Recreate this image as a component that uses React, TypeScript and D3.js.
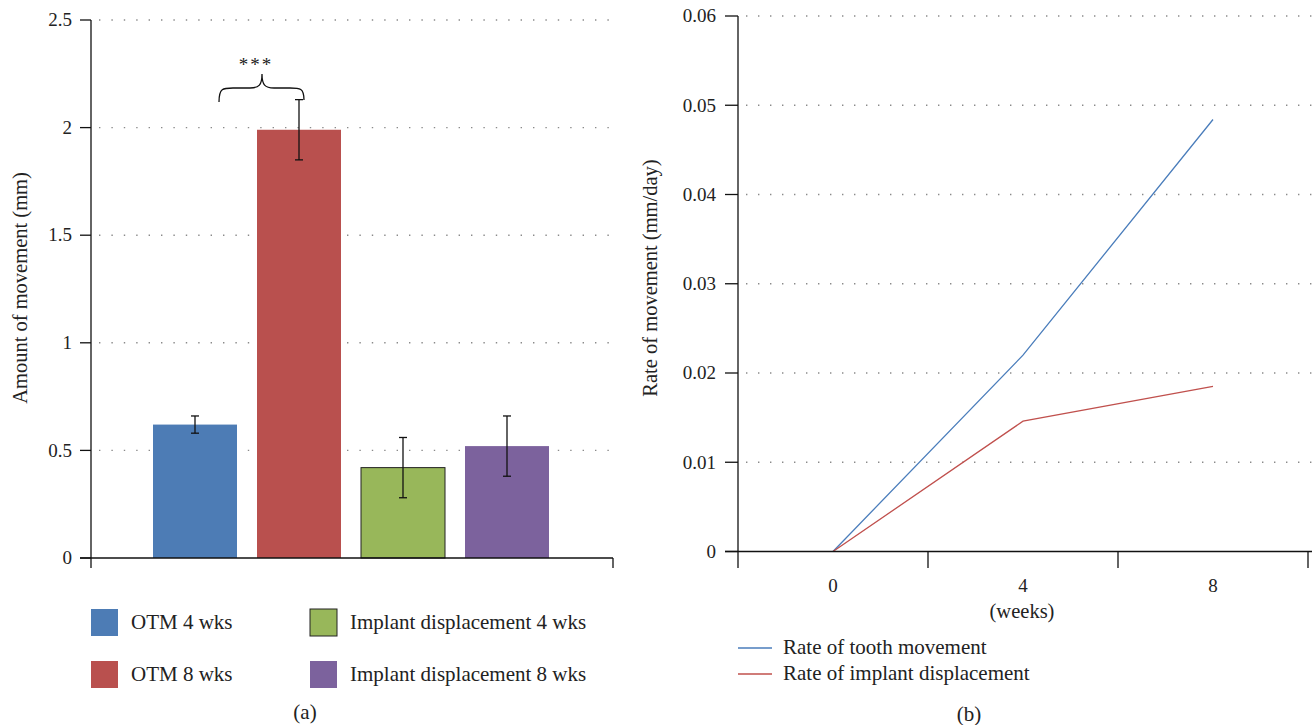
import React from "react";
import * as d3 from "d3";

const barCategories = ["OTM 4 wks", "OTM 8 wks", "Implant displacement 4 wks", "Implant displacement 8 wks"];
const barValues = [0.62, 1.99, 0.42, 0.52];
const barErrors = [0.04, 0.14, 0.14, 0.14];
const barColors = ["#4d7cb5", "#b9504e", "#98b75a", "#7c629d"];
const leftTicks = [0, 0.5, 1, 1.5, 2, 2.5];

const weeks = ["0", "4", "8"];
const toothRate = [0, 0.022, 0.0484];
const implantRate = [0, 0.0146, 0.0185];
const rightTicks = [0, 0.01, 0.02, 0.03, 0.04, 0.05, 0.06];
const lineSeries = [
  { name: "Rate of tooth movement", values: toothRate, color: "#4a7dbb" },
  { name: "Rate of implant displacement", values: implantRate, color: "#c0504d" },
];

const FONT = "'Liberation Serif', 'DejaVu Serif', serif";
const FS = 19;
const FL = 21;
const FT = 20.5;

export default function App() {
  // Left chart
  const lx0 = 91, lx1 = 613, ly0 = 558, ly1 = 20;
  const yL = d3.scaleLinear().domain([0, 2.5]).range([ly0, ly1]);
  const xL = d3.scalePoint<string>().domain(barCategories).range([lx0, lx1 - 2]).padding(1);
  const barW = 84;

  // Right chart
  const rx0 = 738, rx1 = 1308, ry0 = 551.5, ry1 = 16;
  const yR = d3.scaleLinear().domain([0, 0.06]).range([ry0, ry1]);
  const xR = d3.scaleBand<string>().domain(weeks).range([rx0, rx1]);
  const lineGen = d3
    .line<number>()
    .x((_, i) => (xR(weeks[i]) as number) + xR.bandwidth() / 2)
    .y((d) => yR(d));

  const braceL = 219, braceR = 304;
  const braceMid = (braceL + braceR) / 2 + 0.5;
  const braceBot = 102, braceBar = 88, bracePeak = 74;
  const bracePath = `M${braceL},${braceBot} C${braceL},${braceBar} ${braceL + 4},${braceBar} ${braceL + 14},${braceBar} L${braceMid - 12},${braceBar} C${braceMid - 3},${braceBar} ${braceMid},${braceBar - 3} ${braceMid},${bracePeak} C${braceMid},${braceBar - 3} ${braceMid + 3},${braceBar} ${braceMid + 12},${braceBar} L${braceR - 14},${braceBar} C${braceR - 4},${braceBar} ${braceR},${braceBar} ${braceR},${braceBot - 2}`;

  return (
    <svg width={1315} height={725} style={{ position: "absolute", left: 0, top: 0, background: "#fff" }} fontFamily={FONT}>
      {/* LEFT CHART */}
      {leftTicks.slice(1).map((t) => (
        <line key={"lg" + t} x1={lx0 + 8} x2={lx1 + 2} y1={yL(t)} y2={yL(t)} stroke="#8a8a8a" strokeWidth={1.4} strokeDasharray="1.4 11" />
      ))}
      {barCategories.map((c, i) => {
        const cx = xL(c) as number;
        return (
          <rect
            key={c}
            x={cx - barW / 2}
            y={yL(barValues[i])}
            width={barW}
            height={ly0 - yL(barValues[i])}
            fill={barColors[i]}
            stroke={i === 2 ? "#222" : "none"}
            strokeWidth={i === 2 ? 1 : 0}
          />
        );
      })}
      {barCategories.map((c, i) => {
        const cx = xL(c) as number;
        const top = yL(barValues[i] + barErrors[i]);
        const bot = yL(barValues[i] - barErrors[i]);
        return (
          <g key={"e" + c} stroke="#111" strokeWidth={1.3}>
            <line x1={cx} x2={cx} y1={top} y2={bot} />
            <line x1={cx - 4} x2={cx + 4} y1={top} y2={top} />
            <line x1={cx - 4} x2={cx + 4} y1={bot} y2={bot} />
          </g>
        );
      })}
      {/* axes */}
      <line x1={lx0} x2={lx0} y1={ly1} y2={568} stroke="#111" strokeWidth={1.3} />
      <line x1={80} x2={lx1} y1={ly0} y2={ly0} stroke="#111" strokeWidth={1.3} />
      <line x1={lx1} x2={lx1} y1={ly0} y2={568} stroke="#111" strokeWidth={1.3} />
      {leftTicks.map((t) => (
        <g key={"lt" + t}>
          <line x1={80} x2={lx0} y1={yL(t)} y2={yL(t)} stroke="#111" strokeWidth={1.3} />
          <text x={72} y={yL(t)} dy="0.33em" textAnchor="end" fontSize={FS} fill="#222">
            {String(t)}
          </text>
        </g>
      ))}
      <text transform={`translate(27,288) rotate(-90)`} textAnchor="middle" fontSize={FT} fill="#222">
        Amount of movement (mm)
      </text>
      {/* brace */}
      <path d={bracePath} fill="none" stroke="#111" strokeWidth={1.3} />
      <text x={braceMid - 6} y={71} textAnchor="middle" fontSize={FS} fill="#222" letterSpacing={2}>
        ***
      </text>
      {/* legend left */}
      {barCategories.map((c, i) => {
        const col = i < 2 ? 0 : 1;
        const row = i % 2;
        const sx = col === 0 ? 91 : 310;
        const sy = row === 0 ? 609 : 661;
        return (
          <g key={"lg" + c}>
            <rect x={sx} y={sy} width={27} height={27} fill={barColors[i]} stroke={i === 2 ? "#222" : "none"} strokeWidth={1} />
            <text x={sx + 40} y={sy + 20} fontSize={FL} fill="#222">
              {c}
            </text>
          </g>
        );
      })}
      <text x={305} y={719} textAnchor="middle" fontSize={FL} fill="#222">
        (a)
      </text>

      {/* RIGHT CHART */}
      {rightTicks.slice(1).map((t) => (
        <line key={"rg" + t} x1={rx0 + 8} x2={1313} y1={yR(t)} y2={yR(t)} stroke="#8a8a8a" strokeWidth={1.4} strokeDasharray="1.4 10.6" />
      ))}
      {lineSeries.map((s) => (
        <path key={s.name} d={lineGen(s.values) || ""} fill="none" stroke={s.color} strokeWidth={1.3} />
      ))}
      <line x1={rx0} x2={rx0} y1={ry1} y2={568} stroke="#111" strokeWidth={1.3} />
      <line x1={725} x2={1312} y1={ry0} y2={ry0} stroke="#111" strokeWidth={1.3} />
      {weeks.map((w) => (
        <g key={"wt" + w}>
          <line x1={(xR(w) as number) + xR.bandwidth()} x2={(xR(w) as number) + xR.bandwidth()} y1={ry0} y2={568} stroke="#111" strokeWidth={1.3} />
          <text x={(xR(w) as number) + xR.bandwidth() / 2} y={592} textAnchor="middle" fontSize={FS} fill="#222">
            {w}
          </text>
        </g>
      ))}
      {rightTicks.map((t) => (
        <g key={"rt" + t}>
          <line x1={725} x2={rx0} y1={yR(t)} y2={yR(t)} stroke="#111" strokeWidth={1.3} />
          <text x={716} y={yR(t)} dy="0.33em" textAnchor="end" fontSize={FS} fill="#222">
            {t === 0 ? "0" : t.toFixed(2)}
          </text>
        </g>
      ))}
      <text x={1022} y={618} textAnchor="middle" fontSize={FT} fill="#222">
        (weeks)
      </text>
      <text transform={`translate(657,278) rotate(-90)`} textAnchor="middle" fontSize={FT} fill="#222">
        Rate of movement (mm/day)
      </text>
      {lineSeries.map((s, i) => (
        <g key={"ll" + s.name}>
          <line x1={738} x2={772} y1={648 + i * 26} y2={648 + i * 26} stroke={s.color} strokeWidth={1.3} />
          <text x={783} y={654 + i * 26} fontSize={FL} fill="#222">
            {s.name}
          </text>
        </g>
      ))}
      <text x={969} y={721} textAnchor="middle" fontSize={FL} fill="#222">
        (b)
      </text>
    </svg>
  );
}
